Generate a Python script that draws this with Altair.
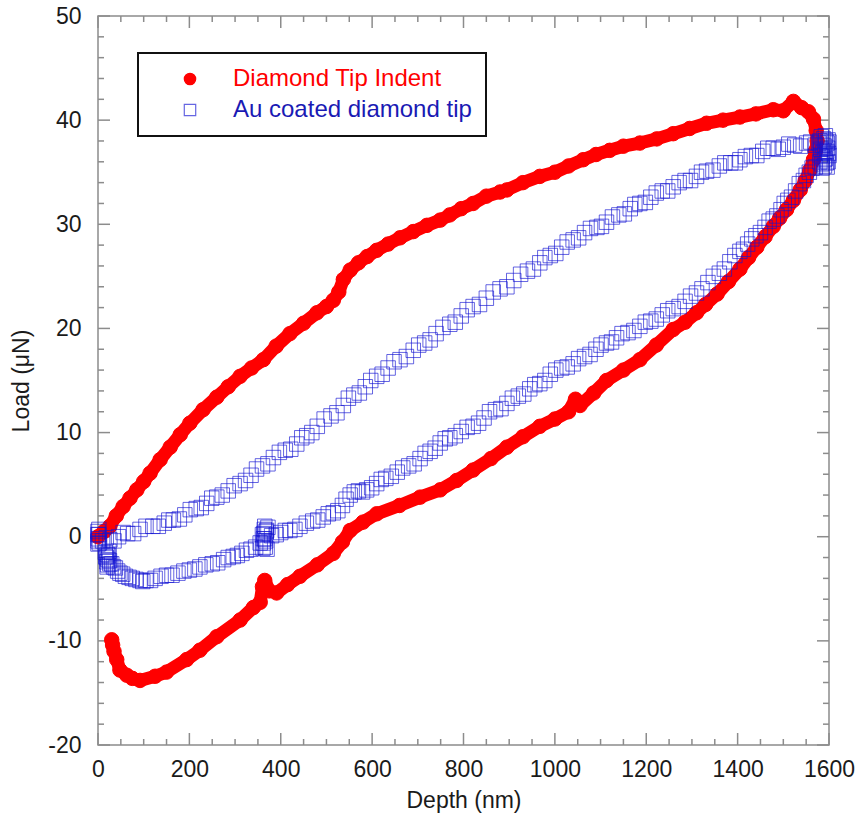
import altair as alt
import pandas as pd

# ---------------- data ----------------
# Diamond tip: loading branch
red_load_depth = [0, 13, 26, 40, 55, 70, 85, 100, 114, 136, 158, 180, 201, 230, 260, 285, 311, 336, 362,
                  390, 420, 450, 479, 500, 515, 527, 537, 552, 570, 589, 610, 635, 661, 690, 720, 749, 770,
                  795, 821, 850, 880, 895, 930, 967, 1000, 1030, 1062, 1090, 1120, 1150, 1186, 1223, 1259,
                  1295, 1332, 1368, 1405, 1440, 1478, 1500, 1522, 1540, 1555, 1566, 1572, 1574]
red_load_load = [0.0, 0.5, 1.0, 2.0, 2.9, 3.7, 4.5, 5.3, 6.1, 7.4, 8.6, 9.8, 10.9, 12.2, 13.4, 14.4, 15.4,
                 16.2, 17.0, 18.3, 19.5, 20.5, 21.5, 22.1, 22.7, 23.5, 24.7, 25.6, 26.3, 26.9, 27.5, 28.1,
                 28.7, 29.3, 29.9, 30.4, 30.9, 31.5, 32.0, 32.7, 33.1, 33.3, 34.0, 34.6, 35.0, 35.6, 36.2,
                 36.7, 37.1, 37.5, 37.8, 38.2, 38.7, 39.2, 39.7, 40.0, 40.3, 40.6, 41.0, 40.9, 41.8, 41.2,
                 40.8, 40.1, 39.0, 38.0]
# Diamond tip: unloading branch
red_unload_depth = [1570, 1566, 1558, 1548, 1537, 1522, 1507, 1492, 1478, 1460, 1442, 1424, 1405, 1380,
                    1355, 1330, 1310, 1285, 1259, 1222, 1186, 1150, 1113, 1085, 1055, 1045, 1030, 1000, 967,
                    930, 895, 860, 821, 785, 749, 705, 660, 610, 580, 552, 535, 515, 480, 442, 415, 391, 375,
                    365, 360, 355, 340, 311, 260, 223, 194, 150, 125, 92, 75, 63, 48, 41, 35, 32, 30]
red_unload_load = [37.0, 36.2, 35.2, 34.2, 33.3, 32.3, 31.4, 30.6, 29.8, 28.8, 27.8, 26.8, 25.7, 24.5,
                   23.3, 22.3, 21.5, 20.6, 19.9, 18.4, 17.0, 16.0, 15.0, 13.8, 12.6, 13.2, 12.0, 11.3, 10.6,
                   9.6, 8.6, 7.5, 6.4, 5.4, 4.5, 3.8, 3.0, 2.2, 1.4, 0.6, -0.5, -1.6, -2.7, -3.8, -4.6, -5.4,
                   -5.2, -4.2, -4.8, -6.3, -6.8, -8.0, -9.6, -10.9, -11.8, -13.0, -13.4, -13.8, -13.6,
                   -13.3, -12.8, -11.8, -11.0, -10.4, -9.9]

# Au coated tip: points near zero at the start
blue_start_depth = [0, 0, 2, 3, 0, 1, 0, 2]
blue_start_load = [0.5, -0.4, 0.2, -0.6, 0.2, -0.2, -0.7, 0.7]
# Au coated tip: loading branch
blue_load_depth = [10, 18, 26, 35, 45, 55, 65, 78, 92, 105, 120, 132, 145, 155, 165, 178, 190, 202, 215,
                   226, 238, 249, 260, 272, 285, 298, 311, 323, 335, 347, 360, 372, 384, 397, 410, 422, 435,
                   446, 457, 468, 480, 495, 510, 523, 537, 548, 560, 572, 585, 597, 610, 622, 635, 648, 661,
                   675, 690, 702, 715, 727, 740, 755, 770, 782, 795, 808, 821, 835, 850, 865, 880, 895, 910,
                   925, 940, 953, 967, 978, 990, 1002, 1015, 1027, 1040, 1052, 1065, 1078, 1092, 1102, 1113,
                   1126, 1140, 1152, 1165, 1175, 1186, 1198, 1210, 1222, 1235, 1247, 1259, 1272, 1285, 1297,
                   1310, 1321, 1332, 1346, 1360, 1372, 1385, 1395, 1405, 1417, 1430, 1442, 1455, 1466, 1478,
                   1489, 1500, 1512, 1525, 1538, 1551, 1560, 1570]
blue_load_load = [-0.4, -0.1, -0.3, -0.4, 0.0, 0.4, 0.3, 0.3, 0.7, 1.0, 1.0, 1.0, 1.3, 1.6, 1.6, 1.7, 2.1,
                  2.6, 2.7, 2.8, 3.2, 3.7, 3.8, 4.0, 4.4, 4.9, 5.1, 5.4, 5.9, 6.5, 6.8, 7.0, 7.6, 8.1, 8.3,
                  8.4, 8.9, 9.5, 9.7, 10.0, 10.6, 11.3, 11.6, 11.9, 12.6, 13.3, 13.6, 13.8, 14.4, 15.0, 15.4,
                  15.6, 16.2, 16.8, 17.0, 17.3, 17.9, 18.4, 18.6, 18.9, 19.5, 20.1, 20.4, 20.6, 21.2, 21.8,
                  22.1, 22.3, 22.9, 23.5, 23.8, 24.0, 24.6, 25.2, 25.5, 25.7, 26.3, 26.8, 27.0, 27.2, 27.8,
                  28.3, 28.5, 28.7, 29.2, 29.6, 29.7, 29.8, 30.2, 30.7, 30.9, 31.0, 31.5, 31.9, 32.0, 32.1,
                  32.6, 33.0, 33.2, 33.2, 33.6, 34.0, 34.2, 34.2, 34.6, 35.0, 35.1, 35.2, 35.6, 35.9, 35.9,
                  35.9, 36.2, 36.5, 36.6, 36.6, 37.0, 37.3, 37.3, 37.2, 37.4, 37.7, 37.6, 37.5, 37.8, 37.9,
                  37.6]
# Au coated tip: hold at maximum depth
blue_hold_depth = [1580, 1590, 1595, 1585, 1598, 1590, 1600, 1582, 1588, 1596, 1592, 1584, 1578, 1583,
                   1587, 1593, 1597, 1599, 1594, 1589, 1586, 1591, 1596, 1600, 1581, 1585, 1592, 1598]
blue_hold_load = [38.0, 37.5, 37.0, 36.5, 36.0, 35.6, 36.6, 37.2, 38.2, 37.8, 36.3, 35.8, 37.8, 38.4,
                  36.9, 38.0, 37.3, 36.8, 35.9, 36.2, 37.6, 37.0, 35.5, 37.9, 36.6, 35.4, 38.5, 38.1]
# Au coated tip: unloading branch
blue_unload_depth = [1580, 1570, 1563, 1557, 1550, 1544, 1535, 1527, 1518, 1510, 1502, 1495, 1486, 1478,
                     1469, 1460, 1450, 1440, 1431, 1422, 1413, 1405, 1394, 1383, 1371, 1360, 1347, 1335,
                     1322, 1310, 1297, 1285, 1272, 1259, 1247, 1235, 1222, 1210, 1198, 1186, 1173, 1160,
                     1147, 1135, 1124, 1113, 1101, 1090, 1077, 1065, 1052, 1040, 1027, 1015, 1002, 990, 978,
                     967, 956, 945, 932, 920, 907, 895, 882, 870, 857, 845, 833, 821, 808, 795, 782, 770,
                     760, 749, 738, 727, 716, 705, 692, 680, 667, 655, 642, 630, 620, 610, 599, 588, 579,
                     570, 561, 552, 543, 535, 525, 515, 504, 493, 481, 470, 456, 442, 431, 420, 410, 400,
                     390, 380]
blue_unload_load = [36.0, 35.5, 35.4, 35.0, 34.7, 34.2, 33.9, 33.2, 32.6, 32.3, 32.0, 31.4, 30.8, 30.5,
                    30.3, 29.7, 29.2, 28.9, 28.6, 28.1, 27.6, 27.4, 27.0, 26.4, 25.7, 25.3, 25.0, 24.4,
                    23.8, 23.4, 23.1, 22.6, 22.1, 21.9, 21.7, 21.3, 20.9, 20.7, 20.6, 20.2, 19.8, 19.6,
                    19.5, 19.1, 18.7, 18.6, 18.4, 18.0, 17.5, 17.3, 17.1, 16.6, 16.3, 16.2, 16.0, 15.6, 15.0,
                    14.7, 14.6, 14.2, 13.7, 13.5, 13.3, 12.8, 12.3, 12.2, 12.0, 11.4, 10.9, 10.6, 10.5, 10.1,
                    9.7, 9.5, 9.4, 9.0, 8.5, 8.2, 8.0, 7.5, 7.0, 6.8, 6.6, 6.2, 5.8, 5.6, 5.5, 5.1, 4.7, 4.5,
                    4.3, 4.4, 4.3, 4.0, 3.6, 3.0, 2.5, 2.3, 2.2, 1.9, 1.6, 1.5, 1.3, 1.0, 0.7, 0.6, 0.6, 0.4,
                    0.2, 0.1]
# Au coated tip: pause near 365 nm
blue_pause_depth = [372, 368, 365, 362, 366, 370, 360, 364, 363, 367, 361, 369, 365, 362]
blue_pause_load = [0.9, 0.5, -0.2, -0.6, -1.0, -1.2, 0.2, 0.7, 0.3, -0.4, -1.1, 0.6, 1.0, -0.2]
# Au coated tip: end of unloading
blue_end_depth = [355, 345, 335, 325, 315, 305, 296, 285, 275, 262, 250, 236, 223, 212, 200, 188, 175,
                  162, 150, 138, 125, 115, 105, 98, 92, 83, 75, 68, 60, 54, 48, 43, 38, 34, 30, 26, 22, 20,
                  24, 18, 20, 16, 19, 23, 21, 17, 25]
blue_end_load = [-0.6, -1.0, -1.2, -1.3, -1.6, -1.8, -1.9, -2.0, -2.2, -2.5, -2.6, -2.7, -2.9, -3.1, -3.2,
                 -3.3, -3.5, -3.7, -3.7, -3.8, -4.0, -4.2, -4.2, -4.3, -4.2, -4.1, -4.0, -3.9, -3.8, -3.6,
                 -3.5, -3.3, -3.0, -2.9, -2.6, -2.6, -2.2, -1.7, -1.4, -2.0, -2.9, -1.5, -2.4, -1.8, -2.7,
                 -1.9, -2.3]

series_names = ["Diamond Tip Indent", "Au coated diamond tip"]

x_major = [0, 200, 400, 600, 800, 1000, 1200, 1400, 1600]
x_minor = [50, 100, 150, 250, 300, 350, 450, 500, 550, 650, 700, 750, 850, 900, 950,
           1050, 1100, 1150, 1250, 1300, 1350, 1450, 1500, 1550]
y_major = [-20, -10, 0, 10, 20, 30, 40, 50]
y_minor = [-18, -16, -14, -12, -8, -6, -4, -2, 2, 4, 6, 8, 12, 14, 16, 18,
           22, 24, 26, 28, 32, 34, 36, 38, 42, 44, 46, 48]

# ---------------- tables ----------------
red_d = red_load_depth + red_unload_depth
red_l = red_load_load + red_unload_load
blue_d = blue_start_depth + blue_load_depth + blue_hold_depth + blue_unload_depth + blue_pause_depth + blue_end_depth
blue_l = blue_start_load + blue_load_load + blue_hold_load + blue_unload_load + blue_pause_load + blue_end_load

red_df = pd.DataFrame({"depth": red_d, "load": red_l, "series": series_names[0],
                       "idx": list(range(len(red_d)))})
blue_df = pd.DataFrame({"depth": blue_d, "load": blue_l, "series": series_names[1],
                        "idx": list(range(len(blue_d)))})
pts_df = pd.concat([red_df, blue_df], ignore_index=True)
pts_df["idx"] = list(range(len(pts_df)))

W, H = 731, 729
FONT = "Liberation Sans"
AXC = "#8c8c8c"
TXT = "#1a1a1a"

sx = alt.Scale(domain=[0, 1600], nice=False, zero=False)
sy = alt.Scale(domain=[-20, 50], nice=False, zero=False)

x_axis = alt.Axis(values=x_major, labelExpr="'' + datum.value", ticks=False, domain=False, grid=False,
                  labelFontSize=23, labelFont=FONT, labelColor=TXT, labelPadding=13,
                  labelFlush=False, title="Depth (nm)", titleFont=FONT, titleFontSize=23,
                  titleFontWeight="normal", titleColor=TXT, titlePadding=8)
y_axis = alt.Axis(values=y_major, labelExpr="'' + datum.value", ticks=False, domain=False, grid=False,
                  labelFontSize=23, labelFont=FONT, labelColor=TXT, labelPadding=17,
                  labelFlush=False, title="Load (μN)", titleFont=FONT, titleFontSize=23,
                  titleFontWeight="normal", titleColor=TXT, titlePadding=14)


def tick_layer(values, channel, side, length):
    df = pd.DataFrame({"v": values})
    base = alt.Chart(df).mark_rule(color=AXC, strokeWidth=1.5)
    if channel == "x":
        enc = dict(x=alt.X("v:Q", scale=sx, axis=x_axis))
        if side == "bottom":
            enc.update(y=alt.value(H), y2=alt.value(H - length))
        else:
            enc.update(y=alt.value(0), y2=alt.value(length))
    else:
        enc = dict(y=alt.Y("v:Q", scale=sy, axis=y_axis))
        if side == "left":
            enc.update(x=alt.value(0), x2=alt.value(length))
        else:
            enc.update(x=alt.value(W), x2=alt.value(W - length))
    return base.encode(**enc)


ticks = [
    tick_layer(x_major, "x", "bottom", 12), tick_layer(x_minor, "x", "bottom", 6),
    tick_layer(x_major, "x", "top", 12), tick_layer(x_minor, "x", "top", 6),
    tick_layer(y_major, "y", "left", 12), tick_layer(y_minor, "y", "left", 6),
    tick_layer(y_major, "y", "right", 12), tick_layer(y_minor, "y", "right", 6),
]

red_line = alt.Chart(red_df).mark_line(color="#ff0000", strokeWidth=13, strokeCap="round",
                                       strokeJoin="round").encode(
    x=alt.X("depth:Q", scale=sx, axis=x_axis),
    y=alt.Y("load:Q", scale=sy, axis=y_axis),
    order="idx:Q",
)

legend = alt.Legend(
    title=None, orient="none", legendX=40, legendY=37,
    labelFont=FONT, labelFontSize=24, labelLimit=500,
    labelColor=alt.ExprRef(expr="datum.label == 'Diamond Tip Indent' ? '#ff0000' : '#1a1ab4'"),
    symbolSize=130, symbolStrokeWidth=1.2, symbolOffset=26, labelOffset=31, symbolOpacity=1,
    padding=14, rowPadding=7, strokeColor="#111111", fillColor="white",
)

points = alt.Chart(pts_df).mark_point(strokeWidth=1, size=210, opacity=1).encode(
    x=alt.X("depth:Q", scale=sx, axis=x_axis),
    y=alt.Y("load:Q", scale=sy, axis=y_axis),
    shape=alt.Shape("series:N", scale=alt.Scale(domain=series_names, range=["circle", "square"]),
                    legend=legend),
    fill=alt.Fill("series:N", scale=alt.Scale(domain=series_names, range=["#ff0000", "transparent"]),
                  legend=legend),
    stroke=alt.Stroke("series:N", scale=alt.Scale(domain=series_names,
                                                  range=["#ff0000", "rgba(20,20,210,0.65)"]),
                      legend=legend),
    order="idx:Q",
)

chart = alt.layer(*ticks, red_line, points).properties(
    width=W, height=H,
    padding={"left": 98, "top": 16, "right": 31, "bottom": 87},
    autosize=alt.AutoSizeParams(type="none"),
).configure_view(stroke=AXC, strokeWidth=1.5).configure_legend(strokeWidth=2)

chart.save("out.html", embed_options={"renderer": "svg", "actions": False})
